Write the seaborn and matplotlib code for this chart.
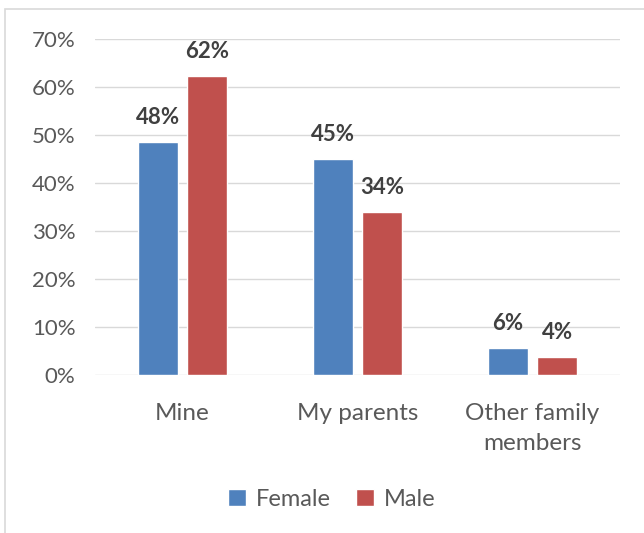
import matplotlib
matplotlib.use("Agg")
import matplotlib.pyplot as plt
import seaborn as sns
import pandas as pd
from matplotlib.patches import Rectangle

categories = ["Mine", "My parents", "Other family\nmembers"]
series = ["Female", "Male"]
female = [48.5, 45.0, 5.6]
male = [62.3, 34.0, 3.7]
yticks = [0, 10, 20, 30, 40, 50, 60, 70]

rows = []
for c, f, m in zip(categories, female, male):
    rows.append({"cat": c, "sex": "Female", "val": f})
    rows.append({"cat": c, "sex": "Male", "val": m})
df = pd.DataFrame(rows)

sns.set_style("white")
plt.rcParams["font.family"] = ["Lato", "DejaVu Sans"]

fig = plt.figure(figsize=(6.44, 5.33), dpi=100)
ax = fig.add_axes([95/644, (533-375)/533, 525/644, (375-39)/533])

palette = {"Female": "#4F81BD", "Male": "#C0504D"}
sns.barplot(data=df, x="cat", y="val", hue="sex", palette=palette, ax=ax,
            width=0.571, gap=0.2, saturation=1, order=categories, hue_order=series)

ax.set_ylim(0, 70)
ax.set_xlim(-0.5, 2.5)
ax.set_yticks(yticks)
ax.set_yticklabels([f"{t}%" for t in yticks])
ax.grid(axis="y", color="#D9D9D9", linewidth=1)
ax.set_axisbelow(True)
for s in ax.spines.values():
    s.set_visible(False)
ax.tick_params(axis="y", length=0, labelsize=16, colors="#595959", pad=14)
ax.tick_params(axis="x", length=0, labelsize=17.5, colors="#595959", pad=20)
for lbl in ax.get_xticklabels():
    lbl.set_linespacing(1.55)
ax.set_xlabel("")
ax.set_ylabel("")

for cont in ax.containers:
    for bar in cont:
        h = bar.get_height()
        ax.annotate(f"{h:.0f}%", (bar.get_x() + bar.get_width()/2, h),
                    xytext=(0, 10), textcoords="offset points",
                    ha="center", va="bottom", fontsize=16, fontweight="bold",
                    color="#404040")

leg = ax.legend(loc="center", bbox_to_anchor=(0.451, -0.37), ncol=2, frameon=False,
                fontsize=17, handlelength=0.75, handleheight=0.75, handletextpad=0.4,
                columnspacing=1.1)
for t in leg.get_texts():
    t.set_color("#595959")

fig.patches.append(Rectangle((5/644, -0.05), 1.0, (533-9)/533 + 0.05,
                             transform=fig.transFigure, fill=False,
                             edgecolor="#D9D9D9", linewidth=1.2))

fig.savefig("out.png", dpi=100)
